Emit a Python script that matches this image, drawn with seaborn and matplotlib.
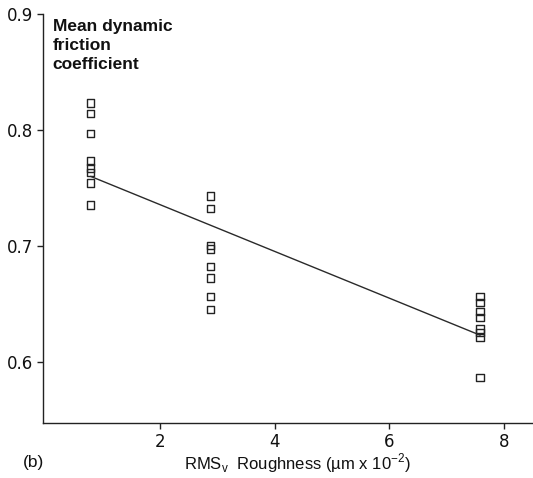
import numpy as np
import pandas as pd
import matplotlib
matplotlib.use("Agg")
import matplotlib.pyplot as plt
import seaborn as sns

# Data
roughness_left = [0.80] * 8
friction_left = [0.823, 0.814, 0.797, 0.773, 0.767, 0.763, 0.754, 0.735]
roughness_mid = [2.89] * 8
friction_mid = [0.743, 0.732, 0.700, 0.697, 0.682, 0.672, 0.656, 0.645]
roughness_right = [7.58] * 8
friction_right = [0.656, 0.651, 0.643, 0.638, 0.628, 0.625, 0.621, 0.586]

x_ticks = [2, 4, 6, 8]
y_ticks = [0.6, 0.7, 0.8, 0.9]

df = pd.DataFrame({
    "roughness": roughness_left + roughness_mid + roughness_right,
    "friction": friction_left + friction_mid + friction_right,
})

sns.set_style("ticks")
plt.rcParams["font.family"] = ["DejaVu Sans"]
plt.rcParams["mathtext.fontset"] = "custom"
plt.rcParams["mathtext.rm"] = "Liberation Sans"

fig = plt.figure(figsize=(5.33, 4.78), dpi=100)
ax = fig.add_axes([0.0807, 0.115, 0.9193, 0.856])

sns.regplot(data=df, x="roughness", y="friction", scatter=False, ci=None,
            line_kws=dict(color="#2a2a2a", lw=1.0), ax=ax)
sns.scatterplot(data=df, x="roughness", y="friction", marker="s", s=28,
                facecolors="none", edgecolor="#222222", linewidth=1.0, ax=ax)

ax.set_xlim(-0.03, 8.5)
ax.set_ylim(0.547, 0.9)
ax.set_xticks(x_ticks)
ax.set_xticklabels([str(t) for t in x_ticks])
ax.set_yticks(y_ticks)
ax.set_yticklabels([f"{t:.1f}" for t in y_ticks])
ax.tick_params(axis="both", labelsize=12, length=4, width=1, color="#222222",
               labelcolor="#111111", pad=3)
for side in ["top", "right"]:
    ax.spines[side].set_visible(False)
for side in ["left", "bottom"]:
    ax.spines[side].set_color("#222222")
    ax.spines[side].set_linewidth(1.0)

ax.set_xlabel("")
ax.set_ylabel("")

ax.text(0.02, 0.988, "Mean dynamic\nfriction\ncoefficient", transform=ax.transAxes,
        ha="left", va="top", fontsize=12.5, fontweight="bold", linespacing=1.35,
        color="#111111", family="Liberation Sans")

fig.text(297 / 533, 1 - 463 / 478, r"RMS$_\mathregular{v}$  Roughness (µm x 10$^{-2}$)",
         ha="center", va="center", fontsize=12, color="#111111",
         family="Liberation Sans")
fig.text(23 / 533, 1 - 463 / 478, "(b)", ha="left", va="center", fontsize=12.5,
         color="#111111", family="Liberation Sans")

fig.savefig("out.png", dpi=100)
